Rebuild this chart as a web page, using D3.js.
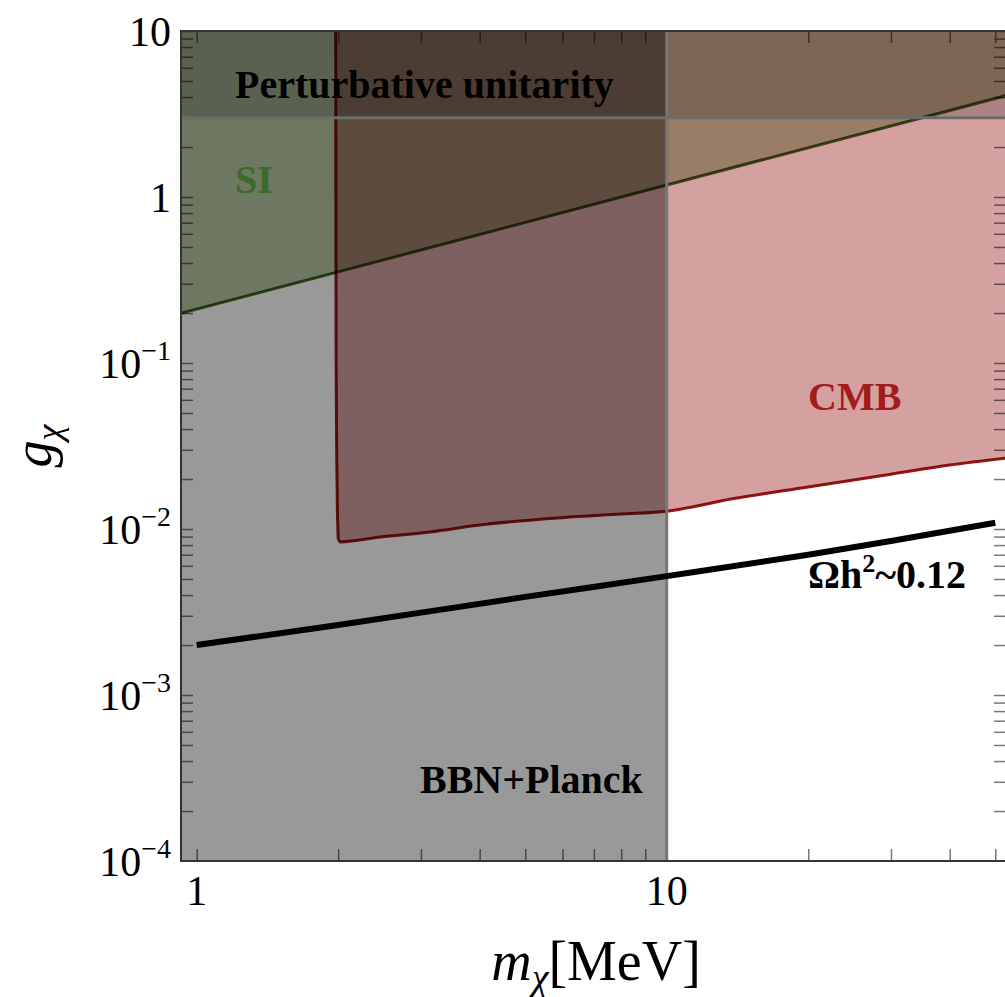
<!DOCTYPE html>
<html><head><meta charset="utf-8">
<script src="https://cdn.jsdelivr.net/npm/d3@7"></script>
<style>body{margin:0;background:#fff} svg{display:block}</style>
</head><body>
<svg id="c" width="1005" height="997"></svg>
<script>
// ---- data ----
const xMajorTicks = [1, 10];
const xMinorTicks = [2, 3, 4, 5, 6, 7, 8, 9, 20, 30, 40, 50];
const yTickExps = [-4, -3, -2, -1, 0, 1];
const bbnMassLimit = 10;          // MeV, BBN+Planck excludes below
const unitarityLimit = 3;         // g above excluded
const siMass = [0.9, 2, 10, 53];
const siCoupling = [0.195, 0.354, 1.18, 4.1];
const cmbEdgeMass = [1.975, 1.977, 1.98, 1.985, 1.993];
const cmbEdgeCoupling = [20, 1, 0.1, 0.03, 0.012];
const cmbMass = [2.0, 2.02, 2.46, 3.14, 4.0, 6.0, 8.0, 10, 13.8, 20, 30, 40, 53];
const cmbCoupling = [0.0088, 0.00836, 0.00895, 0.0096, 0.01057, 0.0117, 0.0123, 0.0128, 0.0152, 0.0179, 0.0214, 0.0243, 0.0268];
const relicMass = [1, 2, 5, 10, 20, 30, 50];
const relicCoupling = [0.0020, 0.00264, 0.0039, 0.0052, 0.0070, 0.00847, 0.0109];

const svg = d3.select("#c");
const L = 181, R = 1006, T = 31, B = 861;
const x = d3.scaleLog().domain([0.926, 52.7]).range([L, R]);
const y = d3.scaleLog().domain([1e-4, 10]).range([B, T]);
const serif = "'Liberation Serif','Times New Roman',serif";

svg.append("rect").attr("width", 1005).attr("height", 997).attr("fill", "#fff");
svg.append("defs").append("clipPath").attr("id", "pa")
  .append("rect").attr("x", L).attr("y", T).attr("width", R - L).attr("height", B - T);

const plot = svg.append("g").attr("clip-path", "url(#pa)");
plot.append("rect").attr("x", L).attr("y", T).attr("width", R - L).attr("height", B - T).attr("fill", "#fff");

// ---- ticks (drawn under the regions, inside the blended group) ----
const xTicks = xMajorTicks.concat(xMinorTicks);
const yTicks = [];
yTickExps.forEach(e => { for (let k = 1; k <= 9; k++) { const v = k * Math.pow(10, e); if (v <= 10.0001) yTicks.push(v); } });
function styleAxis(g) {
  g.select(".domain").remove();
  g.selectAll(".tick line").attr("stroke", "#777").attr("stroke-width", 1.5);
  g.selectAll(".tick text").remove();
}
plot.append("g").attr("transform", `translate(0,${B})`).call(d3.axisBottom(x).tickValues(xTicks).tickSize(-12)).call(styleAxis);
plot.append("g").attr("transform", `translate(0,${T})`).call(d3.axisTop(x).tickValues(xTicks).tickSize(-12)).call(styleAxis);
plot.append("g").attr("transform", `translate(${L},0)`).call(d3.axisLeft(y).tickValues(yTicks).tickSize(-12)).call(styleAxis);
plot.append("g").attr("transform", `translate(${R},0)`).call(d3.axisRight(y).tickValues(yTicks).tickSize(-12)).call(styleAxis);

// ---- regions ----
const line = d3.line().x(d => x(d[0])).y(d => y(d[1]));
const smooth = d3.line().curve(d3.curveMonotoneX).x(d => x(d[0])).y(d => y(d[1]));

// BBN + Planck
plot.append("rect").attr("x", x(0.5)).attr("y", y(100)).attr("width", x(bbnMassLimit) - x(0.5))
  .attr("height", y(1e-5) - y(100)).attr("fill", "#999999").style("mix-blend-mode", "multiply");

// CMB
const cmbEdge = cmbEdgeMass.map((m, i) => [m, cmbEdgeCoupling[i]]);
const cmbBottom = cmbMass.map((m, i) => [m, cmbCoupling[i]]);
const cmbD = line(cmbEdge) + smooth(cmbBottom).replace(/^M/, "L");
plot.append("path").attr("d", cmbD + "L" + x(60) + "," + y(20) + "Z")
  .attr("fill", "#d4a0a0").style("mix-blend-mode", "multiply");
plot.append("path").attr("d", cmbD).attr("fill", "none")
  .attr("stroke", "#9e1616").attr("stroke-width", 3).style("mix-blend-mode", "multiply");

// SI
const siPts = siMass.map((m, i) => [m, siCoupling[i]]);
plot.append("path").attr("d", line(siPts.concat([[53, 20], [0.9, 20]])) + "Z")
  .attr("fill", "#b8c7a3").style("mix-blend-mode", "multiply");
plot.append("path").attr("d", line(siPts)).attr("fill", "none")
  .attr("stroke", "#4a6526").attr("stroke-width", 3).style("mix-blend-mode", "multiply");

// Perturbative unitarity
plot.append("rect").attr("x", x(0.5)).attr("y", y(100)).attr("width", x(100) - x(0.5))
  .attr("height", y(unitarityLimit) - y(100)).attr("fill", "#d0d0d0").style("mix-blend-mode", "multiply");

// boundary lines
plot.append("line").attr("x1", x(bbnMassLimit)).attr("x2", x(bbnMassLimit)).attr("y1", T).attr("y2", B)
  .attr("stroke", "#777").attr("stroke-width", 3);
plot.append("line").attr("x1", L).attr("x2", R).attr("y1", y(unitarityLimit)).attr("y2", y(unitarityLimit))
  .attr("stroke", "#6c6c6c").attr("stroke-width", 3);

// relic line
const relicPts = relicMass.map((m, i) => [m, relicCoupling[i]]);
plot.append("path").attr("d", smooth(relicPts))
  .attr("fill", "none").attr("stroke", "#000").attr("stroke-width", 6);

// frame
svg.append("rect").attr("x", L).attr("y", T).attr("width", R - L).attr("height", B - T)
  .attr("fill", "none").attr("stroke", "#333").attr("stroke-width", 2);

// ---- tick labels ----
const yl = svg.append("g").attr("font-family", serif).attr("font-size", 42).attr("fill", "#000").attr("text-anchor", "end");
yTickExps.forEach(e => {
  const t = yl.append("text").attr("x", 171).attr("y", y(Math.pow(10, e)) + 15);
  if (e === 0) t.text("1");
  else if (e === 1) t.text("10");
  else {
    t.append("tspan").text("10");
    t.append("tspan").attr("font-size", 28).attr("dy", -18).text("\u2212" + (-e));
  }
});
svg.append("g").attr("font-family", serif).attr("font-size", 42).attr("text-anchor", "middle")
  .selectAll("text").data(xMajorTicks).join("text")
  .attr("x", d => x(d)).attr("y", 905).text(d => d);

// ---- axis titles ----
const xt = svg.append("text").attr("x", 596).attr("y", 980).attr("font-family", serif).attr("font-size", 56).attr("text-anchor", "middle");
xt.append("tspan").attr("font-style", "italic").text("m");
xt.append("tspan").attr("font-style", "italic").attr("font-size", 38).attr("dy", 10).text("\u03c7");
xt.append("tspan").attr("dy", -10).text("[MeV]");

const yt = svg.append("text").attr("transform", "translate(51,446) rotate(-90)").attr("font-family", serif).attr("font-size", 54).attr("text-anchor", "middle");
yt.append("tspan").attr("font-style", "italic").text("g");
yt.append("tspan").attr("font-style", "italic").attr("font-size", 36).attr("dy", 10).text("\u03c7");

// ---- region labels ----
const lab = svg.append("g").attr("font-family", serif).attr("font-weight", "bold").attr("font-size", 40);
lab.append("text").attr("x", 235).attr("y", 98).attr("fill", "#000").text("Perturbative unitarity");
lab.append("text").attr("x", 235).attr("y", 193).attr("fill", "#3b6a2a").text("SI");
lab.append("text").attr("x", 808).attr("y", 410).attr("fill", "#a31c1c").text("CMB");
lab.append("text").attr("x", 420).attr("y", 793).attr("fill", "#000").text("BBN+Planck");
const om = lab.append("text").attr("x", 808).attr("y", 588).attr("fill", "#000");
om.append("tspan").text("\u03a9h");
om.append("tspan").attr("font-size", 26).attr("dy", -16).text("2");
om.append("tspan").attr("dy", 16).text("~0.12");
</script>
</body></html>
